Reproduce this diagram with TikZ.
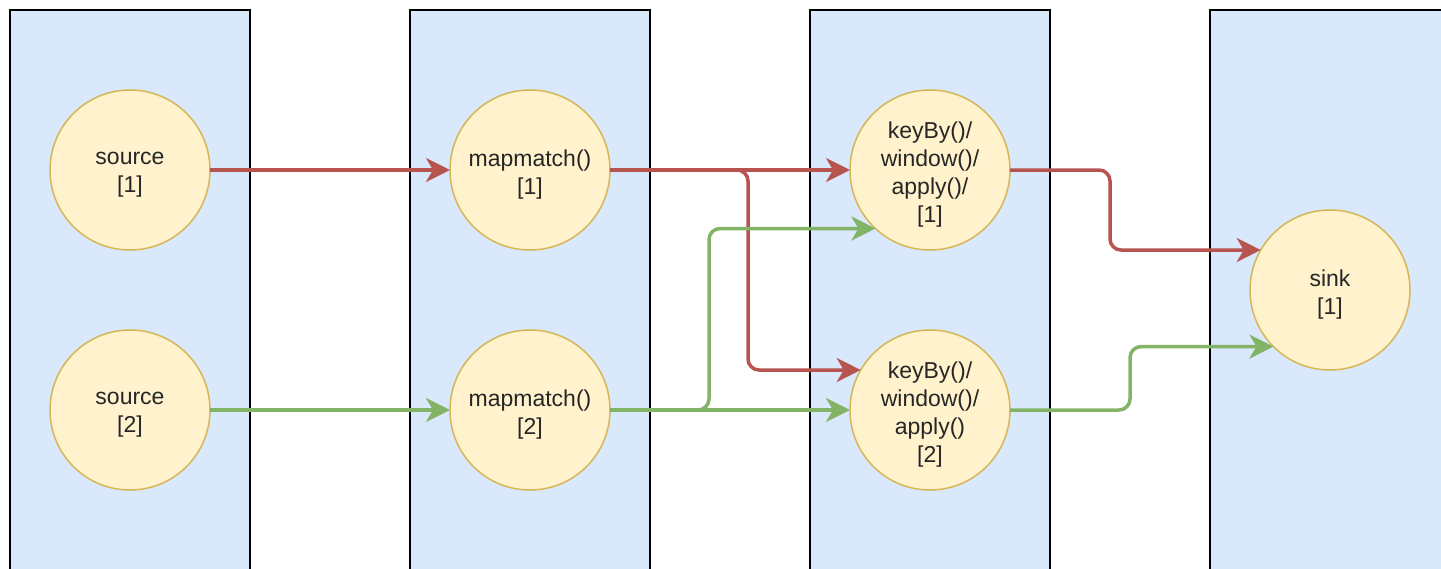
\documentclass[tikz,border=0pt]{standalone}
\usepackage{fontspec}
\setmainfont{Liberation Sans}
\usetikzlibrary{arrows.meta}
\definecolor{laneblue}{HTML}{DAE8FC}
\definecolor{opfill}{HTML}{FFF2CC}
\definecolor{opline}{HTML}{D6B656}
\definecolor{flowred}{HTML}{B85450}
\definecolor{flowgreen}{HTML}{82B366}
\definecolor{optextcol}{HTML}{262626}
\tikzset{
  lane/.style={fill=laneblue, draw=black, line width=1.6pt},
  op/.style={circle, fill=opfill, draw=opline, line width=1.5pt, minimum size=160pt,
    inner sep=0pt, outer sep=0pt,
    label={[optext]center:{#1}}},
  optext/.style={align=center, yshift=-5pt, text=optextcol,
    font=\fontsize{23}{28}\selectfont},
  flow/.style={line width=3.5pt, rounded corners=11pt,
    -{Stealth[length=24pt,width=24pt,inset=7pt]}},
  redflow/.style={flow, draw=flowred, color=flowred},
  greenflow/.style={flow, draw=flowgreen, color=flowgreen},
}
\begin{document}
\begin{tikzpicture}[x=1pt,y=-1pt]
  \useasboundingbox (0,0) rectangle (1441,568);
  \clip (0,0) rectangle (1441,568);
  % parallel task lanes
  \draw[lane] (10,10) rectangle (250,600);
  \draw[lane] (410,10) rectangle (650,600);
  \draw[lane] (810,10) rectangle (1050,600);
  \draw[lane] (1210,10) rectangle (1460,600);
  % operator instances
  \node[op={source\\{}[1]}] (s1) at (130,170) {};
  \node[op={source\\{}[2]}] (s2) at (130,410) {};
  \node[op={mapmatch()\\{}[1]}] (m1) at (530,170) {};
  \node[op={mapmatch()\\{}[2]}] (m2) at (530,410) {};
  \node[op={keyBy()/\\window()/\\apply()/\\{}[1]}] (k1) at (930,170) {};
  \node[op={keyBy()/\\window()/\\apply()\\{}[2]}] (k2) at (930,410) {};
  \node[op={sink\\{}[1]}] (sk) at (1330,290) {};
  % data flows
  \draw[redflow] (s1.east) -- (m1.west);
  \draw[redflow] (m1.east) -- (k1.west);
  \draw[redflow] (m1.east) -- ++(138,0) |- (k2.150);
  \draw[greenflow] (s2.east) -- (m2.west);
  \draw[greenflow] (m2.east) -- (k2.west);
  \draw[greenflow] (m2.east) -- ++(99,0) |- (k1.-133.5);
  \draw[redflow] (k1.east) -- ++(100,0) |- (sk.150);
  \draw[greenflow] (k2.east) -- ++(120,0) |- (sk.-135.6);
\end{tikzpicture}
\end{document}
